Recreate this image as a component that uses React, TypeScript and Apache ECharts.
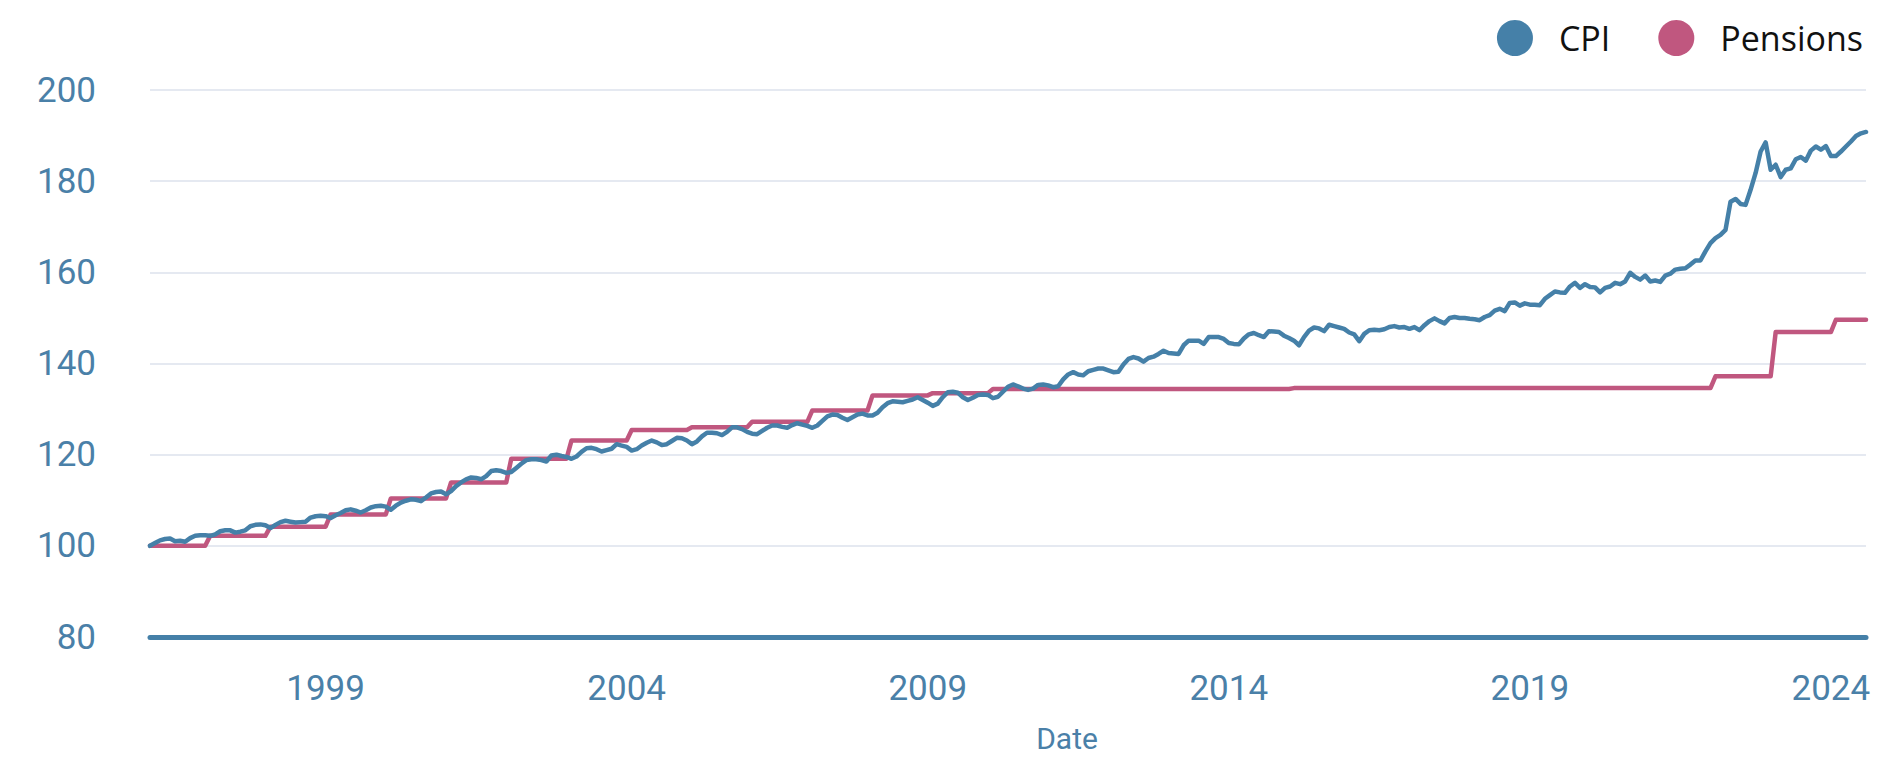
import React, { useEffect, useRef } from "react";
import * as echarts from "echarts";

const START_YEAR = 1996;
const START_MONTH = 2; // first data point: February 1996
const LABEL_YEARS = [1999, 2004, 2009, 2014, 2019, 2024];

const cpi: number[] = [
  100.0, 100.6, 101.2, 101.5, 101.6, 101.0, 101.1, 100.9, 101.7, 102.2, 102.3, 102.3,
  102.2, 102.5, 103.2, 103.4, 103.4, 102.9, 103.1, 103.4, 104.3, 104.6, 104.7, 104.5,
  103.9, 104.6, 105.2, 105.5, 105.3, 105.1, 105.2, 105.3, 106.2, 106.5, 106.6, 106.5,
  106.1, 106.7, 107.2, 107.8, 108.0, 107.7, 107.3, 107.8, 108.4, 108.7, 108.8, 108.6,
  107.9, 108.8, 109.5, 109.9, 110.2, 110.1, 109.8, 110.6, 111.5, 111.8, 111.9, 111.3,
  112.0, 113.1, 113.9, 114.6, 115.0, 114.9, 114.6, 115.3, 116.4, 116.6, 116.4, 116.0,
  116.2, 117.1, 118.0, 118.8, 119.0, 119.0, 118.8, 118.5, 119.8, 120.0, 119.7, 119.5,
  119.1, 119.6, 120.6, 121.4, 121.5, 121.2, 120.7, 121.0, 121.3, 122.3, 122.0, 121.7,
  120.9, 121.2, 122.0, 122.6, 123.1, 122.7, 122.1, 122.3, 123.0, 123.7, 123.6, 123.1,
  122.3, 122.9, 124.0, 124.8, 124.8, 124.7, 124.3, 125.0, 126.0, 126.0, 125.6, 125.0,
  124.6, 124.5, 125.2, 125.9, 126.4, 126.4, 126.1, 125.9, 126.5, 126.9, 126.6, 126.3,
  125.9, 126.4, 127.4, 128.4, 128.8, 128.7, 128.1, 127.6, 128.2, 128.8, 129.0, 128.6,
  128.6, 129.2, 130.4, 131.3, 131.7, 131.6, 131.5, 131.8, 132.1, 132.6, 132.0, 131.4,
  130.7, 131.2, 132.6, 133.7, 133.8, 133.6, 132.6, 132.0, 132.5, 133.1, 133.2, 133.1,
  132.4, 132.7, 133.8, 134.9, 135.4, 135.0, 134.5, 134.2, 134.5, 135.3, 135.4, 135.2,
  134.8, 135.0, 136.5, 137.6, 138.1, 137.6, 137.4, 138.3, 138.6, 138.9, 138.9, 138.5,
  138.1, 138.2, 139.8, 141.0, 141.4, 141.1, 140.4, 141.2, 141.5, 142.1, 142.8, 142.3,
  142.2, 142.1, 144.0, 145.0, 145.0, 145.0, 144.3, 145.8, 145.8, 145.8, 145.4, 144.5,
  144.3, 144.2, 145.5, 146.4, 146.7, 146.2, 145.8, 147.1, 147.0, 146.9, 146.1, 145.6,
  145.0, 144.0, 145.8, 147.2, 147.9, 147.7, 147.1, 148.5, 148.2, 147.9, 147.6, 146.8,
  146.4, 144.9, 146.5, 147.3, 147.4, 147.3, 147.5, 148.0, 148.2, 147.9, 148.0, 147.6,
  148.0, 147.3, 148.4, 149.3, 149.9, 149.3, 148.8, 150.0, 150.2, 150.0, 150.0, 149.8,
  149.7, 149.5, 150.2, 150.6, 151.6, 152.0, 151.5, 153.3, 153.4, 152.7, 153.2, 152.9,
  152.9, 152.8, 154.2, 155.0, 155.8, 155.6, 155.5, 156.9, 157.7, 156.6, 157.4, 156.8,
  156.7, 155.6, 156.6, 156.9, 157.7, 157.4, 158.0, 159.9, 159.0, 158.4, 159.3, 158.0,
  158.2, 157.9, 159.3, 159.7, 160.6, 160.8, 160.9, 161.7, 162.6, 162.6, 164.6, 166.4,
  167.5, 168.2, 169.3, 175.5, 176.1, 175.0, 174.8, 178.1, 181.8, 186.5, 188.5, 182.5,
  183.6, 180.9, 182.5, 182.8, 184.8, 185.3, 184.5, 186.7, 187.6, 186.9, 187.7, 185.5,
  185.5, 186.5, 187.6, 188.7, 189.9, 190.5, 190.8,
];

const pensions: number[] = [
  100.0, 100.0, 100.0, 100.0, 100.0, 100.0, 100.0, 100.0, 100.0, 100.0, 100.0, 100.0,
  102.2, 102.2, 102.2, 102.2, 102.2, 102.2, 102.2, 102.2, 102.2, 102.2, 102.2, 102.2,
  104.2, 104.2, 104.2, 104.2, 104.2, 104.2, 104.2, 104.2, 104.2, 104.2, 104.2, 104.2,
  106.9, 106.9, 106.9, 106.9, 106.9, 106.9, 106.9, 106.9, 106.9, 106.9, 106.9, 106.9,
  110.4, 110.4, 110.4, 110.4, 110.4, 110.4, 110.4, 110.4, 110.4, 110.4, 110.4, 110.4,
  113.9, 113.9, 113.9, 113.9, 113.9, 113.9, 113.9, 113.9, 113.9, 113.9, 113.9, 113.9,
  119.1, 119.1, 119.1, 119.1, 119.1, 119.1, 119.1, 119.1, 119.1, 119.1, 119.1, 119.1,
  123.1, 123.1, 123.1, 123.1, 123.1, 123.1, 123.1, 123.1, 123.1, 123.1, 123.1, 123.1,
  125.4, 125.4, 125.4, 125.4, 125.4, 125.4, 125.4, 125.4, 125.4, 125.4, 125.4, 125.4,
  126.0, 126.0, 126.0, 126.0, 126.0, 126.0, 126.0, 126.0, 126.0, 126.0, 126.0, 126.0,
  127.2, 127.2, 127.2, 127.2, 127.2, 127.2, 127.2, 127.2, 127.2, 127.2, 127.2, 127.2,
  129.7, 129.7, 129.7, 129.7, 129.7, 129.7, 129.7, 129.7, 129.7, 129.7, 129.7, 129.7,
  133.0, 133.0, 133.0, 133.0, 133.0, 133.0, 133.0, 133.0, 133.0, 133.0, 133.0, 133.0,
  133.5, 133.5, 133.5, 133.5, 133.5, 133.5, 133.5, 133.5, 133.5, 133.5, 133.5, 133.5,
  134.4, 134.4, 134.4, 134.4, 134.4, 134.4, 134.4, 134.4, 134.4, 134.4, 134.4, 134.4,
  134.4, 134.4, 134.4, 134.4, 134.4, 134.4, 134.4, 134.4, 134.4, 134.4, 134.4, 134.4,
  134.4, 134.4, 134.4, 134.4, 134.4, 134.4, 134.4, 134.4, 134.4, 134.4, 134.4, 134.4,
  134.4, 134.4, 134.4, 134.4, 134.4, 134.4, 134.4, 134.4, 134.4, 134.4, 134.4, 134.4,
  134.4, 134.4, 134.4, 134.4, 134.4, 134.4, 134.4, 134.4, 134.4, 134.4, 134.4, 134.4,
  134.6, 134.6, 134.6, 134.6, 134.6, 134.6, 134.6, 134.6, 134.6, 134.6, 134.6, 134.6,
  134.6, 134.6, 134.6, 134.6, 134.6, 134.6, 134.6, 134.6, 134.6, 134.6, 134.6, 134.6,
  134.6, 134.6, 134.6, 134.6, 134.6, 134.6, 134.6, 134.6, 134.6, 134.6, 134.6, 134.6,
  134.6, 134.6, 134.6, 134.6, 134.6, 134.6, 134.6, 134.6, 134.6, 134.6, 134.6, 134.6,
  134.6, 134.6, 134.6, 134.6, 134.6, 134.6, 134.6, 134.6, 134.6, 134.6, 134.6, 134.6,
  134.6, 134.6, 134.6, 134.6, 134.6, 134.6, 134.6, 134.6, 134.6, 134.6, 134.6, 134.6,
  134.6, 134.6, 134.6, 134.6, 134.6, 134.6, 134.6, 134.6, 134.6, 134.6, 134.6, 134.6,
  137.2, 137.2, 137.2, 137.2, 137.2, 137.2, 137.2, 137.2, 137.2, 137.2, 137.2, 137.2,
  146.9, 146.9, 146.9, 146.9, 146.9, 146.9, 146.9, 146.9, 146.9, 146.9, 146.9, 146.9,
  149.6, 149.6, 149.6, 149.6, 149.6, 149.6, 149.6,
];

const months: string[] = cpi.map((_, i) => {
  const t = START_MONTH - 1 + i;
  const y = START_YEAR + Math.floor(t / 12);
  const m = (t % 12) + 1;
  return `${y}-${String(m).padStart(2, "0")}`;
});

const BLUE = "#4580a8";
const PINK = "#c0577f";
const LABEL = "#4a80a8";

export default function App() {
  const ref = useRef<HTMLDivElement>(null);

  useEffect(() => {
    document.body.style.margin = "0";
    if (!ref.current) return;
    const chart = echarts.init(ref.current, undefined, { renderer: "svg" });
    chart.setOption({
      animation: false,
      backgroundColor: "#ffffff",
      legend: {
        data: ["CPI", "Pensions"],
        right: 17,
        top: 15,
        icon: "circle",
        itemWidth: 36,
        itemHeight: 36,
        itemGap: 48,
        textStyle: {
          fontFamily: "'Open Sans', 'Noto Sans', sans-serif",
          fontSize: 34,
          color: "#111111",
          padding: [0, 0, 0, 21],
        },
      },
      grid: { left: 150, right: 19, top: 90, bottom: 120 },
      xAxis: {
        type: "category",
        data: months,
        boundaryGap: false,
        axisLine: { show: true, lineStyle: { color: BLUE, width: 5 } },
        axisTick: { show: false },
        splitLine: { show: false },
        axisLabel: {
          interval: (_i: number, v: string) =>
            v.endsWith("-01") && LABEL_YEARS.includes(Number(v.slice(0, 4))),
          formatter: (v: string) => v.slice(0, 4),
          fontFamily: "Roboto, sans-serif",
          fontSize: 35,
          color: LABEL,
          margin: 34,
        },
        name: "Date",
        nameLocation: "middle",
        nameGap: 86,
        nameTextStyle: {
          fontFamily: "Roboto, sans-serif",
          fontSize: 30,
          color: LABEL,
          padding: [0, 0, 0, 118],
        },
      },
      yAxis: {
        type: "value",
        min: 80,
        max: 200,
        interval: 20,
        axisLine: { show: false },
        axisTick: { show: false },
        axisLabel: {
          fontFamily: "Roboto, sans-serif",
          fontSize: 35,
          color: LABEL,
          margin: 54,
        },
        splitLine: { lineStyle: { color: "#dde2ec", width: 1.5 } },
      },
      series: [
        {
          name: "CPI",
          type: "line",
          data: cpi,
          symbol: "none",
          showSymbol: false,
          z: 3,
          itemStyle: { color: BLUE },
          lineStyle: { color: BLUE, width: 4.5, join: "round", cap: "round" },
        },
        {
          name: "Pensions",
          type: "line",
          data: pensions,
          symbol: "none",
          showSymbol: false,
          z: 2,
          itemStyle: { color: PINK },
          lineStyle: { color: PINK, width: 4.5, join: "round", cap: "round" },
        },
      ],
    });
    return () => chart.dispose();
  }, []);

  return <div ref={ref} style={{ width: 1885, height: 758 }} />;
}
